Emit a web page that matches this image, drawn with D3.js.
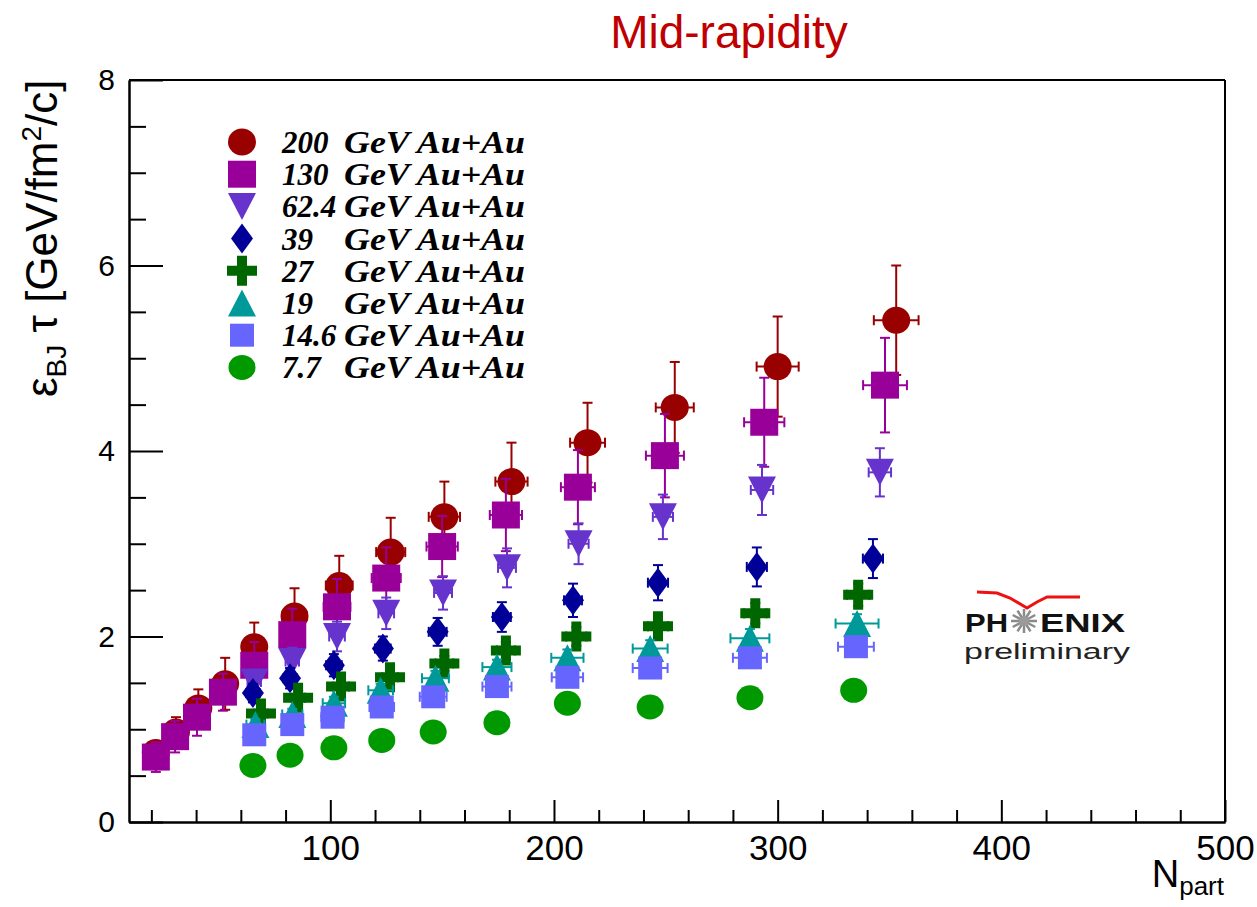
<!DOCTYPE html>
<html>
<head>
<meta charset="utf-8">
<script src="https://cdn.jsdelivr.net/npm/d3@7"></script>
<style>
  body { margin: 0; background: #fff; }
  svg { display: block; }
</style>
</head>
<body>
<svg id="chart" width="1257" height="907" font-family='"Liberation Sans", Arial, sans-serif'></svg>
<script>
// rows: [Npart, eps_BJ*tau, Npart error, eps_BJ*tau error]
const au200 = [
  [22, 0.75, 2.5, 0.11], [31, 0.97, 3, 0.16], [41, 1.23, 3.5, 0.2], [53, 1.49, 4, 0.28],
  [66, 1.89, 5, 0.26], [84, 2.22, 5.5, 0.3], [104, 2.55, 6, 0.32], [127, 2.91, 6.5, 0.37],
  [151, 3.29, 7, 0.38], [181, 3.67, 7.2, 0.42], [215, 4.09, 7.8, 0.43], [254, 4.47, 8.5, 0.49],
  [300, 4.91, 9.4, 0.54], [353, 5.41, 10, 0.59]
];
const au130 = [
  [22, 0.7, 2.5, 0.16], [30.6, 0.92, 3, 0.17], [40.4, 1.13, 3.5, 0.2], [52, 1.4, 4, 0.2],
  [66, 1.69, 5, 0.25], [83, 2.02, 5.5, 0.28], [103, 2.32, 6, 0.3], [125, 2.63, 6.5, 0.33],
  [150, 2.97, 7, 0.33], [178.5, 3.31, 7.2, 0.39], [210.7, 3.61, 7.6, 0.4], [249.6, 3.95, 8.5, 0.45],
  [294, 4.31, 9, 0.48], [348, 4.71, 9.8, 0.51]
];
const au62 = [
  [66, 1.51, 3, 0.13], [83, 1.73, 3, 0.15], [103, 2.0, 3.5, 0.16], [125, 2.25, 3.5, 0.17],
  [150.4, 2.47, 4, 0.18], [179, 2.74, 4, 0.21], [211, 3.0, 4.5, 0.22], [248.7, 3.29, 4.5, 0.24],
  [293, 3.58, 5, 0.27], [345.7, 3.77, 5, 0.26]
];
const au39 = [
  [65.4, 1.39, 3, 0.1], [82, 1.55, 3, 0.11], [101.6, 1.69, 3.5, 0.12], [123.5, 1.87, 3.5, 0.13],
  [148, 2.05, 4, 0.15], [176.7, 2.21, 4, 0.16], [208.5, 2.39, 4, 0.18], [246.5, 2.58, 4.5, 0.19],
  [290.7, 2.75, 4.5, 0.21], [342.6, 2.84, 4.5, 0.21]
];
const au27 = [
  [69, 1.17, 3, 0.06], [85.6, 1.34, 3, 0.07], [104.8, 1.46, 3.5, 0.07], [126.7, 1.56, 3.5, 0.08],
  [151, 1.71, 4, 0.08], [178.5, 1.85, 4, 0.09], [210, 2.0, 4.5, 0.1], [246.5, 2.11, 4.5, 0.1],
  [290, 2.25, 5, 0.11], [336, 2.45, 5, 0.12]
];
const au19 = [
  [66.5, 1.05, 4, 0.06], [83, 1.16, 4.5, 0.06], [101.6, 1.28, 5, 0.07], [122.5, 1.42, 5.5, 0.07],
  [147, 1.55, 6, 0.08], [174.5, 1.67, 6.5, 0.08], [206, 1.77, 7.2, 0.09], [243, 1.87, 7.8, 0.09],
  [287.6, 1.98, 8.7, 0.1], [335.5, 2.14, 9.6, 0.1]
];
const au14 = [
  [66, 0.94, 4, 0.05], [83, 1.05, 4.5, 0.05], [101, 1.13, 5, 0.06], [123, 1.24, 5.5, 0.06],
  [146, 1.35, 6, 0.07], [174.5, 1.46, 6.5, 0.07], [206, 1.56, 7, 0.08], [243, 1.66, 7.8, 0.08],
  [287.6, 1.77, 7.6, 0.09], [335, 1.89, 8, 0.09]
];
const au7 = [
  [65.4, 0.61, 3, 0.04], [82, 0.72, 3, 0.04], [101.6, 0.8, 3.5, 0.05], [123, 0.88, 3.5, 0.05],
  [146, 0.97, 4, 0.05], [174.5, 1.07, 4, 0.06], [206, 1.28, 4.5, 0.07], [243, 1.24, 4.5, 0.07],
  [287.6, 1.34, 5, 0.07], [334, 1.42, 5, 0.08]
];

const energies = ["200", "130", "62.4", "39", "27", "19", "14.6", "7.7"];
const systemLabel = "GeV Au+Au";
const xMajorTicks = [100, 200, 300, 400, 500];
const yMajorTicks = [0, 2, 4, 6, 8];

const series = [
  { rows: au200, color: "#990000", shape: "circle", w: 28, h: 27 },
  { rows: au130, color: "#990099", shape: "square", w: 28, h: 27 },
  { rows: au62, color: "#6633cc", shape: "triangleDown", w: 28, h: 27 },
  { rows: au39, color: "#000099", shape: "diamond", w: 22, h: 30 },
  { rows: au27, color: "#006600", shape: "cross", w: 30, h: 30 },
  { rows: au19, color: "#009999", shape: "triangleUp", w: 28, h: 27 },
  { rows: au14, color: "#6666ff", shape: "square", w: 24, h: 23 },
  { rows: au7, color: "#009900", shape: "circle", w: 27, h: 25 },
];

const margin = { top: 80, right: 32, bottom: 85, left: 129 };
const width = 1257, height = 907;

const svg = d3.select("#chart");

const x = d3.scaleLinear().domain([10, 500]).range([margin.left, width - margin.right]);
const y = d3.scaleLinear().domain([0, 8]).range([height - margin.bottom, margin.top]);

function markerPath(shape, w, h) {
  const a = w / 2, b = h / 2;
  switch (shape) {
    case "square":
      return `M${-a},${-b}H${a}V${b}H${-a}Z`;
    case "triangleUp":
      return `M0,${-b}L${a},${b}L${-a},${b}Z`;
    case "triangleDown":
      return `M${-a},${-b}L${a},${-b}L0,${b}Z`;
    case "diamond":
      return `M0,${-b}L${a},0L0,${b}L${-a},0Z`;
    case "cross": {
      const t = w / 6;
      return `M${-t},${-b}H${t}V${-t}H${a}V${t}H${t}V${b}H${-t}V${t}H${-a}V${-t}H${-t}Z`;
    }
    default:
      return `M${-a},0A${a},${b} 0 1,0 ${a},0A${a},${b} 0 1,0 ${-a},0Z`;
  }
}

// title
svg.append("text")
  .attr("x", 729)
  .attr("y", 48)
  .attr("text-anchor", "middle")
  .attr("font-size", 46)
  .attr("fill", "#c00000")
  .text("Mid-rapidity");

// axes
const plot = svg.append("g");
const yAxisG = plot.append("g").attr("transform", `translate(${margin.left},0)`);
const yMinorG = plot.append("g").attr("transform", `translate(${margin.left},0)`);
const xAxisG = plot.append("g").attr("transform", `translate(0,${height - margin.bottom})`);
const xMinorG = plot.append("g").attr("transform", `translate(0,${height - margin.bottom})`);

xMinorG.call(
  d3.axisBottom(x)
    .tickValues(x.ticks(25).filter((d) => d % 100 !== 0))
    .tickSize(-12)
    .tickSizeOuter(0)
    .tickFormat("")
);
xAxisG.call(
  d3.axisBottom(x).tickValues(xMajorTicks).tickSize(-22).tickSizeOuter(0).tickPadding(13)
);
yMinorG.call(
  d3.axisLeft(y)
    .tickValues(y.ticks(16).filter((d) => d % 2 !== 0))
    .tickSize(-17)
    .tickSizeOuter(0)
    .tickFormat("")
);
yAxisG.call(
  d3.axisLeft(y).tickValues(yMajorTicks).tickSize(-34).tickSizeOuter(0).tickPadding(14)
);

xAxisG.selectAll(".tick text")
  .attr("font-size", 35)
  .attr("font-family", '"Liberation Sans", Arial, sans-serif')
  .attr("fill", "#000");
yAxisG.selectAll(".tick text")
  .attr("font-size", 30)
  .attr("font-family", '"Liberation Sans", Arial, sans-serif')
  .attr("fill", "#000");
plot.selectAll(".domain, .tick line").attr("stroke", "#000").attr("stroke-width", 2);

// frame: top and right
plot.append("line")
  .attr("x1", margin.left).attr("x2", width - margin.right)
  .attr("y1", margin.top).attr("y2", margin.top)
  .attr("stroke", "#000").attr("stroke-width", 2);
plot.append("line")
  .attr("x1", width - margin.right).attr("x2", width - margin.right)
  .attr("y1", margin.top).attr("y2", height - margin.bottom)
  .attr("stroke", "#000").attr("stroke-width", 2);

// axis titles
const yTitle = svg.append("text")
  .attr("transform", "translate(57,397) rotate(-90)")
  .attr("font-size", 44)
  .attr("fill", "#000");
yTitle.append("tspan").text("\u03b5");
yTitle.append("tspan").attr("font-size", 28).attr("dy", 9).text("BJ");
yTitle.append("tspan").attr("dy", -9).text(" \u03c4 [GeV/fm");
yTitle.append("tspan").attr("font-size", 28).attr("dy", -16).text("2");
yTitle.append("tspan").attr("dy", 16).text("/c]");

const xTitle = svg.append("text")
  .attr("x", 1224)
  .attr("y", 887)
  .attr("text-anchor", "end")
  .attr("fill", "#000");
xTitle.append("tspan").attr("font-size", 38).text("N");
xTitle.append("tspan").attr("font-size", 26).attr("dy", 8).text("part");

// data
const cap = 5;
series.forEach((s) => {
  const g = plot.append("g").attr("stroke", s.color).attr("fill", s.color);

  const bars = g.selectAll(".err")
    .data(s.rows)
    .join("g")
    .attr("class", "err")
    .attr("stroke-width", 2);

  bars.append("line")
    .attr("x1", (d) => x(d[0])).attr("x2", (d) => x(d[0]))
    .attr("y1", (d) => y(d[1] - d[3])).attr("y2", (d) => y(d[1] + d[3]));
  bars.append("line")
    .attr("x1", (d) => x(d[0]) - cap).attr("x2", (d) => x(d[0]) + cap)
    .attr("y1", (d) => y(d[1] + d[3])).attr("y2", (d) => y(d[1] + d[3]));
  bars.append("line")
    .attr("x1", (d) => x(d[0]) - cap).attr("x2", (d) => x(d[0]) + cap)
    .attr("y1", (d) => y(d[1] - d[3])).attr("y2", (d) => y(d[1] - d[3]));
  bars.append("line")
    .attr("x1", (d) => x(d[0] - d[2])).attr("x2", (d) => x(d[0] + d[2]))
    .attr("y1", (d) => y(d[1])).attr("y2", (d) => y(d[1]));
  bars.append("line")
    .attr("x1", (d) => x(d[0] - d[2])).attr("x2", (d) => x(d[0] - d[2]))
    .attr("y1", (d) => y(d[1]) - cap).attr("y2", (d) => y(d[1]) + cap);
  bars.append("line")
    .attr("x1", (d) => x(d[0] + d[2])).attr("x2", (d) => x(d[0] + d[2]))
    .attr("y1", (d) => y(d[1]) - cap).attr("y2", (d) => y(d[1]) + cap);

  g.selectAll(".marker")
    .data(s.rows)
    .join("path")
    .attr("class", "marker")
    .attr("stroke", "none")
    .attr("d", markerPath(s.shape, s.w, s.h))
    .attr("transform", (d) => `translate(${x(d[0])},${y(d[1])})`);
});

// legend
const legend = svg.append("g").attr("transform", "translate(242,142)");
const rows = legend.selectAll(".row")
  .data(series)
  .join("g")
  .attr("class", "row")
  .attr("transform", (d, i) => `translate(0,${i * 32.2})`);
rows.append("path")
  .attr("d", (d) => markerPath(d.shape, d.w, d.h))
  .attr("fill", (d) => d.color);

function legendText(sel) {
  return sel.append("text")
    .attr("y", 11)
    .style("font-family", '"Liberation Serif", "Times New Roman", serif')
    .style("font-style", "italic")
    .style("font-weight", "bold")
    .style("font-size", "31px")
    .attr("lengthAdjust", "spacingAndGlyphs")
    .attr("fill", "#000");
}
legendText(rows)
  .attr("x", 40)
  .text((d, i) => energies[i]);
legendText(rows)
  .attr("x", 102)
  .attr("textLength", 181)
  .text(systemLabel);

// PHENIX preliminary tag
const logo = svg.append("g");
logo.append("path")
  .attr("d", "M977,592L997,593L1010,598L1027,608L1037,602L1047,597L1080,597")
  .attr("fill", "none")
  .attr("stroke", "#ee1111")
  .attr("stroke-width", 3);
logo.append("text")
  .attr("x", 965).attr("y", 632)
  .attr("font-size", 26).attr("font-weight", "bold")
  .attr("textLength", 43).attr("lengthAdjust", "spacingAndGlyphs")
  .attr("fill", "#111")
  .text("PH");
logo.append("text")
  .attr("x", 1040).attr("y", 632)
  .attr("font-size", 26).attr("font-weight", "bold")
  .attr("textLength", 85).attr("lengthAdjust", "spacingAndGlyphs")
  .attr("fill", "#111")
  .text("ENIX");
const star = logo.append("g").attr("transform", "translate(1024,621)");
star.selectAll("line")
  .data(d3.range(12))
  .join("line")
  .attr("x1", 0).attr("y1", 0)
  .attr("x2", (d) => 13 * Math.cos((d * Math.PI) / 6))
  .attr("y2", (d) => 12 * Math.sin((d * Math.PI) / 6))
  .attr("stroke", "#8a8a8a")
  .attr("stroke-width", 2.5);
star.append("circle").attr("r", 5).attr("fill", "#9a9a9a");
logo.append("text")
  .attr("x", 964).attr("y", 659)
  .attr("font-size", 22)
  .attr("textLength", 166).attr("lengthAdjust", "spacingAndGlyphs")
  .attr("fill", "#222")
  .text("preliminary");
</script>
</body>
</html>
